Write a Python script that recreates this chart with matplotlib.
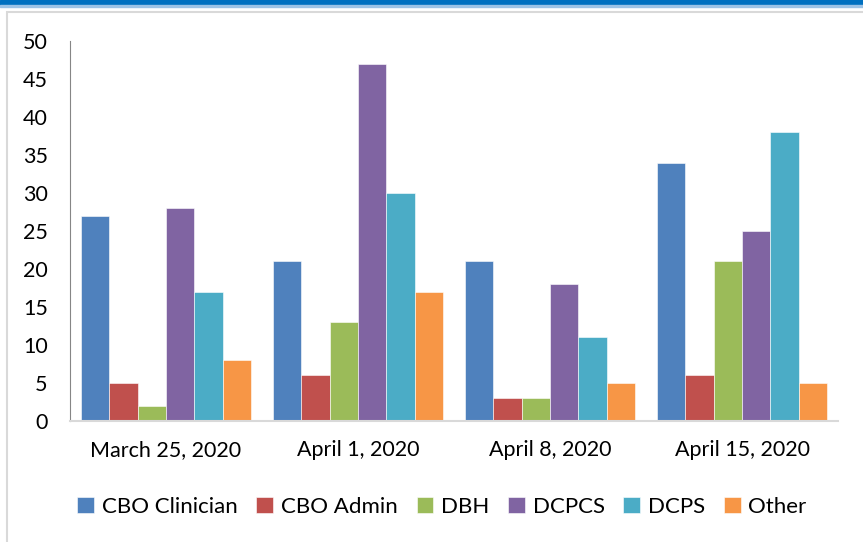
import numpy as np
import matplotlib.pyplot as plt
from matplotlib.patches import Rectangle

plt.rcParams['font.family'] = ['Lato', 'DejaVu Sans']

# Datos
fechas = ['March 25, 2020', 'April 1, 2020', 'April 8, 2020', 'April 15, 2020']
grupos = ['CBO Clinician', 'CBO Admin', 'DBH', 'DCPCS', 'DCPS', 'Other']
cbo_clinician = [27, 21, 21, 34]
cbo_admin = [5, 6, 3, 6]
dbh = [2, 13, 3, 21]
dcpcs = [28, 47, 18, 25]
dcps = [17, 30, 11, 38]
other = [8, 17, 5, 5]

series = [cbo_clinician, cbo_admin, dbh, dcpcs, dcps, other]
colores = ['#4F81BD', '#C0504D', '#9BBB59', '#8064A2', '#4BACC6', '#F79646']

fig = plt.figure(figsize=(8.63, 5.42), dpi=100)

# Banda azul superior y marco
fig.patches.append(Rectangle((0, 1 - 5 / 542), 1, 5 / 542, transform=fig.transFigure,
                             color='#0070C0', zorder=0))
fig.patches.append(Rectangle((0, 1 - 7 / 542), 1, 2 / 542, transform=fig.transFigure,
                             color='#9DC3E6', zorder=0))
fig.patches.append(Rectangle((6.5 / 863, -0.01), 1.2, 1 - 11.5 / 542 + 0.01,
                             transform=fig.transFigure, fill=False,
                             edgecolor='#D9D9D9', linewidth=1.5, zorder=0))

ax = fig.add_axes([70 / 863, 1 - 421 / 542, 768 / 863, 380 / 542])

x = np.arange(len(fechas))
ancho = 0.89 / len(series)
for i, (vals, col, nom) in enumerate(zip(series, colores, grupos)):
    ax.bar(x - 0.445 + ancho * (i + 0.5), vals, width=ancho, color=col,
           edgecolor='white', linewidth=0.4, label=nom)

ax.set_xlim(-0.5, len(fechas) - 0.5)
ax.set_ylim(0, 50)
ax.set_yticks(range(0, 51, 5))
ax.set_xticks(x)
ax.set_xticklabels(fechas)
ax.tick_params(axis='both', length=0, labelsize=15.5)
ax.tick_params(axis='y', pad=16)
ax.tick_params(axis='x', pad=14)

for lado in ['top', 'right']:
    ax.spines[lado].set_visible(False)
ax.spines['left'].set_color('#868686')
ax.spines['bottom'].set_color('#D9D9D9')
ax.spines['bottom'].set_linewidth(1.5)

fig.legend(loc='center', bbox_to_anchor=(442 / 863, 1 - 507 / 542), ncol=6,
           frameon=False, fontsize=16, handlelength=0.75, handleheight=0.75,
           handletextpad=0.35, columnspacing=0.85)

plt.savefig('out.png', dpi=100)
